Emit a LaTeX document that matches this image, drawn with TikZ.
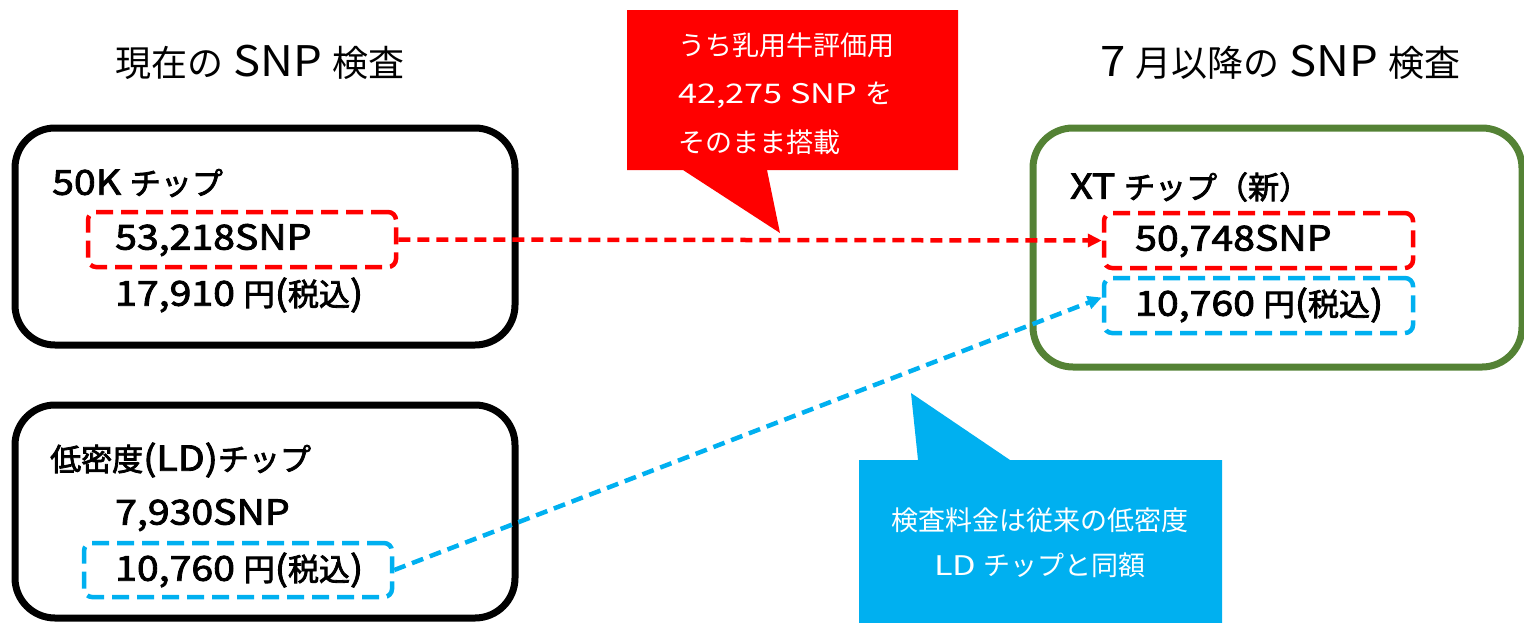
\documentclass[tikz,border=0pt]{standalone}
\usepackage{fontspec}
\setmainfont{Noto Sans CJK JP}
\newfontfamily\jpbox{Noto Sans CJK JP}[FakeBold=2.5]
\newfontfamily\latbox{Noto Sans CJK JP}[FakeBold=2.5, FakeStretch=1.14, Scale=1.11]
\newfontfamily\lattitle{Noto Sans CJK JP}[FakeStretch=1.08, Scale=1.17]
\newfontfamily\latcal{Noto Sans CJK JP}[FakeStretch=1.27]
\newcommand\LB[1]{{\latbox #1}}
\newcommand\LT[1]{{\lattitle #1}}
\newcommand\LC[1]{{\latcal #1}}
\usetikzlibrary{arrows.meta}
\definecolor{xtgreen}{HTML}{548235}
\definecolor{calred}{HTML}{FF0000}
\definecolor{calblue}{HTML}{00B0F0}
\begin{document}
\begin{tikzpicture}[x=1pt,y=-1pt,
  chipbox/.style={draw=#1, line width=7pt, rounded corners=40pt, inner sep=0pt},
  dashbox/.style={draw=#1, line width=4.5pt, dash pattern=on 17pt off 8pt, rounded corners=8pt, inner sep=0pt},
  boxtext/.style={anchor=west, inner sep=0pt, font=\jpbox\fontsize{31}{36}\selectfont},
  titletext/.style={anchor=west, inner sep=0pt, font=\fontsize{36}{40}\selectfont},
  caltext/.style={inner sep=0pt, text=white, font=\fontsize{27}{32}\selectfont},
  conn/.style={draw=#1, line width=4.5pt, dash pattern=on 12pt off 7pt, -{Triangle[length=14pt,width=13pt]}}
]
\useasboundingbox (0,0) rectangle (1524,622);
% titles
\node[titletext] (t1) at (115,62) {現在の\LT{ SNP }検査};
\node[titletext] (t2) at (1100,62) {\LT{7 }月以降の\LT{ SNP }検査};
% chip boxes
\node[chipbox=black, minimum width=500pt, minimum height=217pt] (c1) at (265,236.5) {};
\node[chipbox=black, minimum width=500pt, minimum height=213pt] (c2) at (265,511.5) {};
\node[chipbox=xtgreen, minimum width=489pt, minimum height=239pt] (c3) at (1277.5,247.5) {};
% dashed boxes
\node[dashbox=calred, minimum width=308pt, minimum height=55pt] (r1) at (242,239.5) {};
\node[dashbox=calred, minimum width=309pt, minimum height=55pt] (r2) at (1258.5,240.5) {};
\node[dashbox=calblue, minimum width=309pt, minimum height=55pt] (b2) at (1258.5,305.5) {};
\node[dashbox=calblue, minimum width=308pt, minimum height=54pt] (b1) at (238,570) {};
% texts
\node[boxtext] (l1) at (52,183) {\LB{50K }チップ};
\node[boxtext] (l2) at (115,240) {\LB{53,218SNP}};
\node[boxtext] (l3) at (115,295) {\LB{17,910 }円\LB{(}税込\LB{)}};
\node[boxtext] (l4) at (50,460) {低密度\LB{(LD)}チップ};
\node[boxtext] (l5) at (115,515) {\LB{7,930SNP}};
\node[boxtext] (l6) at (115,570) {\LB{10,760 }円\LB{(}税込\LB{)}};
\node[boxtext] (l7) at (1070,187) {\LB{XT }チップ（新）};
\node[boxtext] (l8) at (1135,241) {\LB{50,748SNP}};
\node[boxtext] (l9) at (1135,305) {\LB{10,760 }円\LB{(}税込\LB{)}};
% connectors
\draw[conn=calred] (r1.east) -- (r2.west);
\draw[conn=calblue] (b1.east) -- ([yshift=8pt]b2.west);
% red callout
\fill[calred] (627,10) -- (958,10) -- (958,170) -- (767,170) -- (780,233) -- (683,170) -- (627,170) -- cycle;
\node[caltext, anchor=west] (k1) at (678,45) {うち乳用牛評価用};
\node[caltext, anchor=west] (k2) at (678,95) {\LC{42,275 SNP }を};
\node[caltext, anchor=west] (k3) at (678,142) {そのまま搭載};
% blue callout
\fill[calblue] (859,460) -- (918,460) -- (911,393) -- (1010,460) -- (1222,460) -- (1222,625) -- (859,625) -- cycle;
\node[caltext] (m1) at (1040,520) {検査料金は従来の低密度};
\node[caltext] (m2) at (1040,565) {\LC{LD }チップと同額};
\end{tikzpicture}
\end{document}
